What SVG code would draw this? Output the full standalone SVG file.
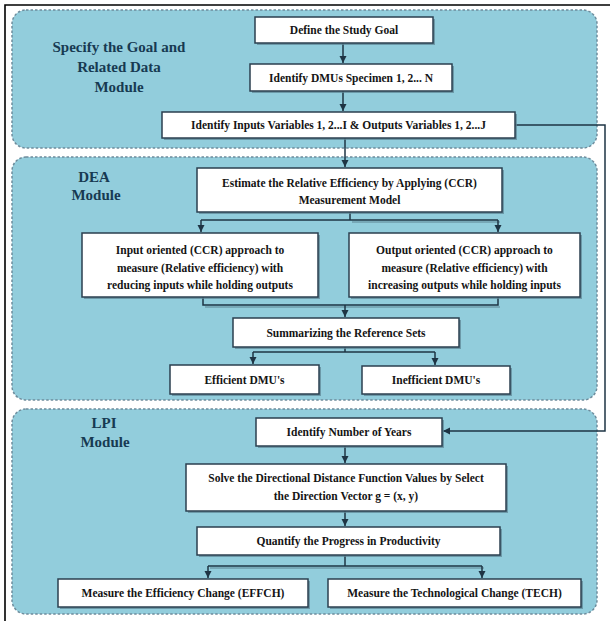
<svg xmlns="http://www.w3.org/2000/svg" width="610" height="621" viewBox="0 0 610 621">
<style>
.mod{fill:#92CDDC;stroke:#6E8C9C;stroke-width:1.5;stroke-dasharray:2.5 2}
.box{fill:#FFFFFF;stroke:#2B3F4F;stroke-width:1.5}
.sh{fill:#5F8797;opacity:0.75}
.t{font-family:"Liberation Serif","Times New Roman",serif;font-weight:bold;font-size:11.5px;fill:#141414;text-anchor:middle}
.ml{font-family:"Liberation Serif","Times New Roman",serif;font-weight:bold;font-size:15px;fill:#173A52;text-anchor:middle}
.c{fill:none;stroke:#1E3444;stroke-width:1.5}
.cs{fill:none;stroke:#5F8797;stroke-width:1.5;opacity:0.7}
</style>
<defs>
<marker id="ah" markerWidth="8" markerHeight="8" refX="7" refY="4" orient="auto" markerUnits="userSpaceOnUse">
<path d="M0,0.5 L7,4 L0,7.5 Z" fill="#1E3444"/>
</marker>
</defs>
<rect x="0" y="0" width="610" height="621" fill="#FFFFFF"/>
<path d="M5,621 V5 H610" fill="none" stroke="#000" stroke-width="1.6"/>

<g id="module-goal">
<rect class="mod" x="12" y="10" width="585" height="138" rx="14"/>
<text class="ml" x="119" y="52">Specify the Goal and</text>
<text class="ml" x="119" y="72">Related Data</text>
<text class="ml" x="119" y="92">Module</text>
</g>
<g id="module-dea">
<rect class="mod" x="12" y="157" width="585" height="243" rx="14"/>
<text class="ml" x="94" y="182">DEA</text>
<text class="ml" x="96" y="200">Module</text>
</g>
<g id="module-lpi">
<rect class="mod" x="12" y="409" width="585" height="205" rx="14"/>
<text class="ml" x="104" y="428">LPI</text>
<text class="ml" x="105" y="447">Module</text>
</g>

<g id="connectors">
<path class="c" d="M343,43 V63" marker-end="url(#ah)"/>
<path class="c" d="M343,91 V111" marker-end="url(#ah)"/>
<path class="c" d="M345,138 V167" marker-end="url(#ah)"/>
<path class="c" d="M515,125 H605 V431 H443" stroke="#3A4E5C" marker-end="url(#ah)"/>
<path class="cs" d="M352,222 H500"/>
<path class="c" d="M350,212 V220"/>
<path class="c" d="M201,220 H498"/>
<path class="c" d="M201,220 V232" marker-end="url(#ah)"/>
<path class="c" d="M498,220 V232" marker-end="url(#ah)"/>
<path class="cs" d="M205,307 H500"/>
<path class="c" d="M203,297 V305 H498 V297"/>
<path class="c" d="M345,305 V317" marker-end="url(#ah)"/>
<path class="c" d="M345,347 V352"/>
<path class="c" d="M253,352 H435"/>
<path class="c" d="M253,352 V364" marker-end="url(#ah)"/>
<path class="c" d="M435,352 V365" marker-end="url(#ah)"/>
<path class="c" d="M345,446 V463" marker-end="url(#ah)"/>
<path class="c" d="M345,511 V526" marker-end="url(#ah)"/>
<path class="cs" d="M210,568 H484"/>
<path class="c" d="M345,555 V566"/>
<path class="c" d="M208,566 H482"/>
<path class="c" d="M208,566 V578" marker-end="url(#ah)"/>
<path class="c" d="M482,566 V578" marker-end="url(#ah)"/>
</g>

<g id="n-define">
<rect class="sh" x="257" y="19" width="178" height="26"/>
<rect class="box" x="255" y="17" width="178" height="26"/>
<text class="t" x="344" y="34">Define the Study Goal</text>
</g>
<g id="n-dmus">
<rect class="sh" x="252" y="66" width="202" height="27"/>
<rect class="box" x="250" y="64" width="202" height="27"/>
<text class="t" x="351" y="81.5">Identify DMUs Specimen 1, 2... N</text>
</g>
<g id="n-variables">
<rect class="sh" x="164" y="114" width="353" height="26"/>
<rect class="box" x="162" y="112" width="353" height="26"/>
<text class="t" x="338.5" y="129">Identify Inputs Variables 1, 2...I &amp; Outputs Variables 1, 2...J</text>
</g>
<g id="n-estimate">
<rect class="sh" x="199" y="170" width="305" height="44"/>
<rect class="box" x="197" y="168" width="305" height="44"/>
<text class="t" x="349.5" y="187">Estimate the Relative Efficiency by Applying (CCR)</text>
<text class="t" x="349.5" y="204">Measurement Model</text>
</g>
<g id="n-input">
<rect class="sh" x="84" y="235" width="236" height="64"/>
<rect class="box" x="82" y="233" width="236" height="64"/>
<text class="t" x="200" y="254">Input oriented (CCR) approach to</text>
<text class="t" x="200" y="272">measure (Relative efficiency) with</text>
<text class="t" x="200" y="289">reducing inputs while holding outputs</text>
</g>
<g id="n-output">
<rect class="sh" x="351" y="235" width="231" height="64"/>
<rect class="box" x="349" y="233" width="231" height="64"/>
<text class="t" x="464.5" y="254">Output oriented (CCR) approach to</text>
<text class="t" x="464.5" y="272">measure (Relative efficiency) with</text>
<text class="t" x="464.5" y="289">increasing outputs while holding inputs</text>
</g>
<g id="n-summarize">
<rect class="sh" x="235" y="320" width="226" height="29"/>
<rect class="box" x="233" y="318" width="226" height="29"/>
<text class="t" x="346" y="336.5">Summarizing the Reference Sets</text>
</g>
<g id="n-efficient">
<rect class="sh" x="172" y="367" width="149" height="29"/>
<rect class="box" x="170" y="365" width="149" height="29"/>
<text class="t" x="244.5" y="383.5">Efficient DMU's</text>
</g>
<g id="n-inefficient">
<rect class="sh" x="364" y="368" width="148" height="28"/>
<rect class="box" x="362" y="366" width="148" height="28"/>
<text class="t" x="436" y="384">Inefficient DMU's</text>
</g>
<g id="n-years">
<rect class="sh" x="258" y="420" width="186" height="28"/>
<rect class="box" x="256" y="418" width="186" height="28"/>
<text class="t" x="349" y="436">Identify Number of Years</text>
</g>
<g id="n-solve">
<rect class="sh" x="188" y="466" width="320" height="47"/>
<rect class="box" x="186" y="464" width="320" height="47"/>
<text class="t" x="346" y="482">Solve the Directional Distance Function Values by Select</text>
<text class="t" x="346" y="500">the Direction Vector g = (x, y)</text>
</g>
<g id="n-quantify">
<rect class="sh" x="199" y="529" width="303" height="28"/>
<rect class="box" x="197" y="527" width="303" height="28"/>
<text class="t" x="348.5" y="545">Quantify the Progress in Productivity</text>
</g>
<g id="n-effch">
<rect class="sh" x="60" y="581" width="250" height="28"/>
<rect class="box" x="58" y="579" width="250" height="28"/>
<text class="t" x="183" y="597">Measure the Efficiency Change (EFFCH)</text>
</g>
<g id="n-tech">
<rect class="sh" x="330" y="581" width="253" height="28"/>
<rect class="box" x="328" y="579" width="253" height="28"/>
<text class="t" x="454.5" y="597">Measure the Technological Change (TECH)</text>
</g>
</svg>
